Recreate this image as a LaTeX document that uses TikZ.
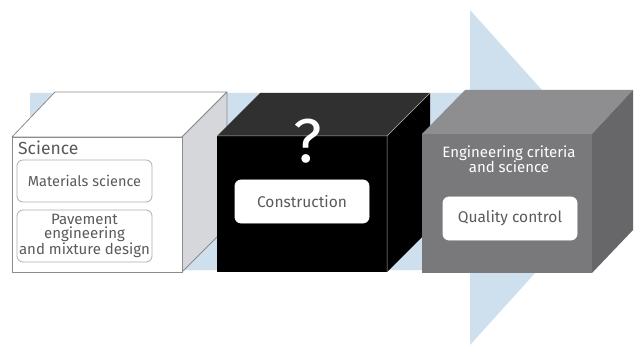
\documentclass[tikz,border=0pt]{standalone}
\usepackage{fontspec}
\setmainfont{Fira Sans}
\definecolor{arrowblue}{HTML}{CEDFEE}
\definecolor{edgegray}{HTML}{8C8C8C}
\definecolor{labelgray}{HTML}{5A5A5A}
\definecolor{sidelight}{HTML}{D6D7DB}
\definecolor{topdark}{HTML}{303030}
\definecolor{gtop}{HTML}{8E8E90}
\definecolor{gfront}{HTML}{79797B}
\definecolor{gside}{HTML}{67676A}
\tikzset{
  labelbox/.style={draw=#1, line width=0.8pt, fill=white, rounded corners=6pt,
    minimum width=135pt, align=center, text=labelgray, font=\fontsize{15.5}{16}\selectfont,
    inner sep=1pt},
  cubeedge/.style={draw=edgegray, line width=0.8pt, line join=round}
}
\begin{document}
\begin{tikzpicture}[x=1pt,y=-1pt]
\useasboundingbox (0,0) rectangle (635,350);
\fill[white] (0,0) rectangle (635,350);

% process arrow in the background
\fill[arrowblue] (30,93) -- (470,93) -- (470,10) -- (621,178) -- (470,345)
  -- (470,270) -- (30,270) -- cycle;

% cube 1: science
\filldraw[cubeedge, fill=white] (12,137) -- (55,92) -- (227,92) -- (182,137) -- cycle;
\filldraw[cubeedge, fill=sidelight] (182,137) -- (227,92) -- (227,227) -- (182,272) -- cycle;
\filldraw[cubeedge, fill=white] (12,137) rectangle (182,272);
\node[anchor=west, text=labelgray, font=\fontsize{17.5}{18}\selectfont, inner sep=0pt] (sci) at (18,148) {Science};
\node[labelbox=edgegray!70, minimum height=42pt, font=\fontsize{14.5}{15}\selectfont] (mat) at (84.5,181) {Materials science};
\node[labelbox=edgegray!70, minimum height=52pt, inner sep=0pt, font=\fontsize{15}{14.5}\selectfont] (pav) at (84.5,236) {Pavement\\engineering\\and mixture design};

% cube 2: construction
\fill[topdark] (217,136) -- (260,93) -- (430,93) -- (387,136) -- cycle;
\fill[black] (387,136) -- (430,93) -- (430,229) -- (387,272) -- cycle;
\fill[black] (217,136) rectangle (387,272);
\draw[gray!60, line width=0.5pt] (217,136) -- (387,136) -- (430,93) (387,136) -- (387,272);
\node[text=white, font=\fontsize{62}{62}\selectfont, inner sep=0pt] (q) at (308,141) {?};
\node[labelbox=white, minimum width=134pt, minimum height=43pt] (con) at (302,201.5) {Construction};

% cube 3: quality control
\fill[gtop] (422,134) -- (465,90) -- (633,90) -- (592,134) -- cycle;
\fill[gside] (592,134) -- (633,90) -- (633,230) -- (592,273) -- cycle;
\fill[gfront] (422,134) rectangle (592,273);
\node[text=white, align=center, font=\fontsize{15}{15}\selectfont] (eng) at (509,159) {Engineering criteria\\and science};
\node[labelbox=white, minimum width=134pt, minimum height=43pt] (qc) at (510,218.5) {Quality control};
\end{tikzpicture}
\end{document}
